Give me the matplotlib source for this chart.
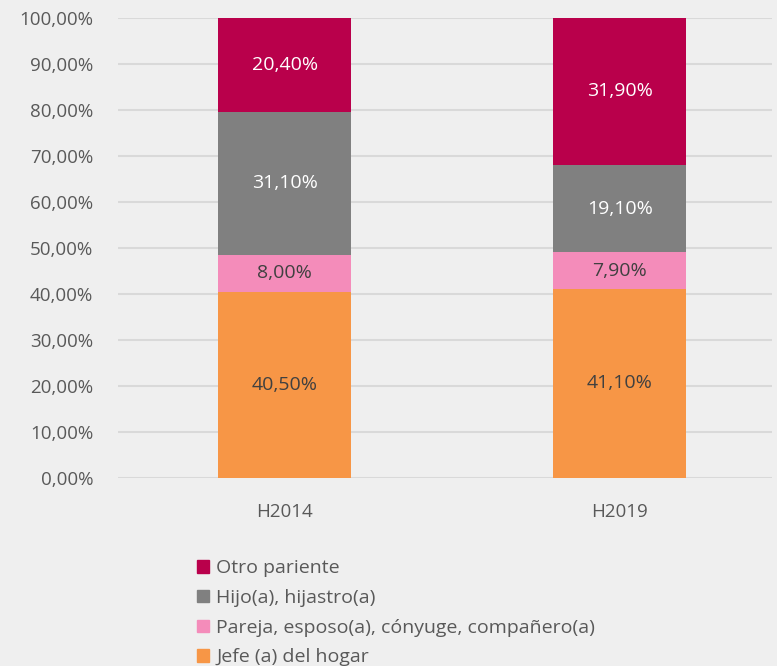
import numpy as np
import matplotlib.pyplot as plt
from matplotlib.patches import Patch

plt.rcParams['font.family'] = ['Open Sans', 'DejaVu Sans']

# data
years = ['H2014', 'H2019']
series = ['Jefe (a) del hogar', 'Pareja, esposo(a), cónyuge, compañero(a)',
          'Hijo(a), hijastro(a)', 'Otro pariente']
jefe = [40.5, 41.1]
pareja = [8.0, 7.9]
hijo = [31.1, 19.1]
otro = [20.4, 31.9]
colors = ['#F79646', '#F48CBA', '#808080', '#B9004B']
label_colors = ['#404040', '#404040', 'white', 'white']

bg = '#EFEFEF'
fig = plt.figure(figsize=(7.77, 6.66), dpi=100, facecolor=bg)
ax = fig.add_axes([0.152, 0.2823, 0.842, 0.691], facecolor=bg)

x = np.arange(len(years))
bottom = np.zeros(len(years))
for vals, c, tc in zip([jefe, pareja, hijo, otro], colors, label_colors):
    vals = np.array(vals)
    ax.bar(x, vals, width=0.397, bottom=bottom, color=c, zorder=3)
    for xi, b, v in zip(x, bottom, vals):
        ax.text(xi, b + v / 2, '{:.2f}%'.format(v).replace('.', ','),
                ha='center', va='center', color=tc, fontsize=14, zorder=4)
    bottom += vals

ax.set_xlim(-0.497, 1.455)
ax.set_ylim(0, 100)
ax.set_yticks(np.arange(0, 101, 10))
ax.set_yticklabels(['{:.2f}%'.format(v).replace('.', ',') for v in range(0, 101, 10)])
ax.set_xticks(x)
ax.set_xticklabels(years)
ax.tick_params(axis='both', length=0, labelsize=13.5, colors='#595959')
ax.tick_params(axis='y', pad=18)
ax.tick_params(axis='x', pad=18)
ax.grid(axis='y', color='#D9D9D9', lw=1.5, zorder=0)
for s in ax.spines.values():
    s.set_visible(False)

handles = [Patch(color=c, label=l) for c, l in zip(colors[::-1], series[::-1])]
fig.legend(handles=handles, loc='upper left', bbox_to_anchor=(0.2535, 0.160),
           frameon=False, fontsize=14, labelcolor='#595959',
           handlelength=0.6, handleheight=0.6, handletextpad=0.4,
           labelspacing=0.6, borderpad=0, borderaxespad=0)

fig.savefig('out.png', dpi=100, facecolor=bg)
